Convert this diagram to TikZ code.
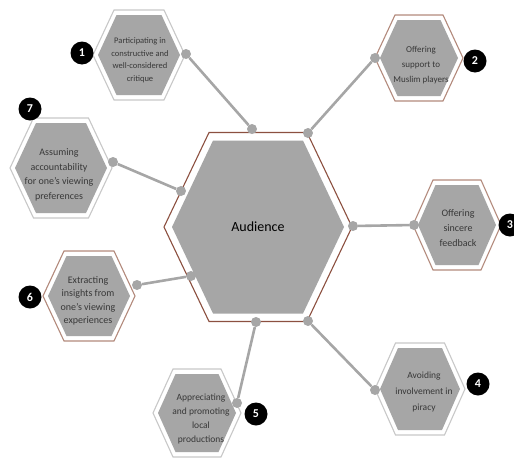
\documentclass[tikz,border=0pt]{standalone}
\usepackage{fontspec}
\setmainfont{Carlito}
\definecolor{cellgray}{HTML}{A6A6A6}
\definecolor{rimbrown}{HTML}{8C5040}
\definecolor{lightbrown}{HTML}{B38A7C}
\definecolor{rimgray}{HTML}{C8C8C8}
\definecolor{txtgray}{HTML}{383838}

% #1 centre, #2 half width, #3 half height, #4 rim colour, #5 gap to the grey core
\newcommand{\hexcell}[5]{%
  \begin{scope}[shift={#1}]
    \draw[draw=#4, fill=white, line width=1.1pt]
      (-#2,0) -- ({-#2/2-2},-#3) -- ({#2/2+2},-#3) -- (#2,0)
      -- ({#2/2+2},#3) -- ({-#2/2-2},#3) -- cycle;
    \fill[cellgray]
      ({-(#2-#5)},0) -- ({-(#2/2+2-#5/2)},{-(#3-#5)}) -- ({#2/2+2-#5/2},{-(#3-#5)})
      -- ({#2-#5},0) -- ({#2/2+2-#5/2},{#3-#5}) -- ({-(#2/2+2-#5/2)},{#3-#5}) -- cycle;
  \end{scope}}

\begin{document}
\begin{tikzpicture}[x=1pt, y=-1pt,
    cell/.style = {align=center, text=txtgray, inner sep=0pt, font=\fontsize{10}{14.5}\selectfont},
    badge/.style = {circle, fill=black, text=white, minimum size=23pt, inner sep=0pt, font=\bfseries\fontsize{12}{12}\selectfont},
    dot/.style = {circle, fill=cellgray, minimum size=10pt, inner sep=0pt},
    link/.style = {draw=cellgray, line width=2.6pt}]
  \useasboundingbox (0,0) rectangle (514,458);
  \clip (0,0) rectangle (514,458);

  \hexcell{(258,227)}{94}{94.5}{rimbrown}{8}
  \hexcell{(139,55)}{46}{45}{rimgray}{5}
  \hexcell{(419,58)}{44}{43}{lightbrown}{5}
  \hexcell{(457,225)}{44}{45}{lightbrown}{5}
  \hexcell{(420,389)}{45}{46}{rimgray}{5}
  \hexcell{(197,413)}{44}{44}{rimgray}{5}
  \hexcell{(89,296)}{46}{45}{lightbrown}{5}
  \hexcell{(61,168)}{51}{50}{rimgray}{5}

  \node[font=\fontsize{14}{14}\selectfont] (t0) at (258,227) {Audience};
  \node[cell, font=\fontsize{8.5}{12.5}\selectfont] (t1) at (140,60) {Participating in\\constructive and\\well-considered\\critique};
  \node[cell, font=\fontsize{9}{15}\selectfont] (t2) at (421,65) {Offering\\support to\\Muslim players};
  \node[cell, font=\fontsize{10}{15}\selectfont] (t3) at (458,228) {Offering\\sincere\\feedback};
  \node[cell, font=\fontsize{9.5}{16}\selectfont] (t4) at (424,392) {Avoiding\\involvement in\\piracy};
  \node[cell, font=\fontsize{9.5}{14}\selectfont] (t5) at (201,419) {Appreciating\\and promoting\\local\\productions};
  \node[cell, font=\fontsize{10}{13.5}\selectfont] (t6) at (88,301) {Extracting\\insights from\\one's viewing\\experiences};
  \node[cell] (t7) at (59,175) {Assuming\\accountability\\for one's viewing\\preferences};

  \node[badge] (b1) at (82,53) {1};
  \node[badge] (b2) at (475,61) {2};
  \node[badge] (b3) at (510,225) {3};
  \node[badge] (b4) at (478,384) {4};
  \node[badge] (b5) at (256,414) {5};
  \node[badge] (b6) at (30,297) {6};
  \node[badge] (b7) at (30,109) {7};

  \node[dot] (c1) at (252,129) {};
  \node[dot] (c2) at (308,133) {};
  \node[dot] (c3) at (353,226) {};
  \node[dot] (c4) at (308,321) {};
  \node[dot] (c5) at (256,322) {};
  \node[dot] (c6) at (191,276) {};
  \node[dot] (c7) at (181,191) {};

  \node[dot] (s1) at (186,54) {};
  \node[dot] (s2) at (375,58) {};
  \node[dot] (s3) at (414,225) {};
  \node[dot] (s4) at (375,390) {};
  \node[dot] (s5) at (237,403) {};
  \node[dot] (s6) at (137,285) {};
  \node[dot] (s7) at (113,162) {};

  \draw[link] (c1) -- (s1);
  \draw[link] (c2) -- (s2);
  \draw[link] (c3) -- (s3);
  \draw[link] (c4) -- (s4);
  \draw[link] (c5) -- (s5);
  \draw[link] (c6) -- (s6);
  \draw[link] (c7) -- (s7);
\end{tikzpicture}
\end{document}
